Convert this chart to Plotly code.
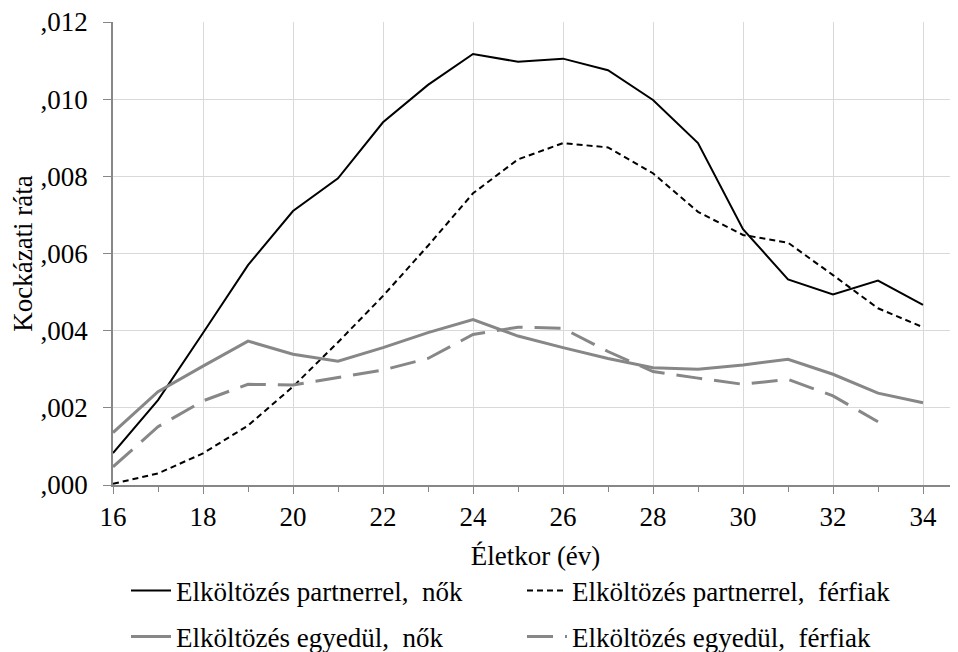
import plotly.graph_objects as go

ages = list(range(16, 35))
partner_nok = [0.00083, 0.0022, 0.00394, 0.0057, 0.0071, 0.00795, 0.0094, 0.01037, 0.01117, 0.01097,
               0.01105, 0.01075, 0.00998, 0.00886, 0.00663, 0.00533, 0.00494, 0.0053, 0.00467]
partner_ferfiak = [0.00003, 0.0003, 0.00082, 0.00154, 0.00255, 0.0037, 0.0049, 0.0062, 0.00756, 0.00844,
                   0.00886, 0.00875, 0.00808, 0.00708, 0.00648, 0.00628, 0.00544, 0.00458, 0.00409]
egyedul_nok = [0.00136, 0.00242, 0.00308, 0.00373, 0.00339, 0.00321, 0.00356, 0.00395, 0.00429, 0.00386,
               0.00356, 0.00328, 0.00304, 0.0030, 0.00311, 0.00326, 0.00287, 0.00238, 0.00213]
egyedul_ferfiak = [0.00047, 0.00151, 0.00218, 0.00261, 0.00259, 0.00279, 0.00298, 0.00328, 0.0039, 0.00409,
                   0.00406, 0.00346, 0.00294, 0.00277, 0.00261, 0.00274, 0.00231, 0.00164, None]

series_names = ["Elköltözés partnerrel,  nők", "Elköltözés partnerrel,  férfiak",
                "Elköltözés egyedül,  nők", "Elköltözés egyedül,  férfiak"]

x_tick_vals = [16, 18, 20, 22, 24, 26, 28, 30, 32, 34]
x_minor_vals = [17, 19, 21, 23, 25, 27, 29, 31, 33]
y_tick_vals = [0.0, 0.002, 0.004, 0.006, 0.008, 0.010, 0.012]
y_tick_text = [",000", ",002", ",004", ",006", ",008", ",010", ",012"]

x_title = "Életkor (év)"
y_title = "Kockázati ráta"

FONT = "Liberation Serif"
FS = 27
GRAY = "#878787"
GRID = "#d9d9d9"

fig = go.Figure()
fig.add_trace(go.Scatter(x=ages, y=partner_nok, mode="lines", name=series_names[0],
                         line=dict(color="black", width=2), legend="legend", showlegend=True))
fig.add_trace(go.Scatter(x=ages, y=partner_ferfiak, mode="lines", name=series_names[1],
                         line=dict(color="black", width=2, dash="6px,4px"), legend="legend2",
                         showlegend=True))
fig.add_trace(go.Scatter(x=ages, y=egyedul_nok, mode="lines", name=series_names[2],
                         line=dict(color=GRAY, width=3), legend="legend3", showlegend=True))
fig.add_trace(go.Scatter(x=ages, y=egyedul_ferfiak, mode="lines", name=series_names[3],
                         line=dict(color=GRAY, width=3, dash="26px,12px"), legend="legend4",
                         showlegend=True))

# the page body adds an 8 px offset; figure is sized so the screenshot matches
OFF = 8
W, H = 958 - OFF, 652 - OFF
plot_left, plot_w, plot_top, plot_h = 113 - OFF, 845, 22 - OFF, 463


def py(pix):
    return (plot_top + plot_h - (pix - OFF)) / plot_h


def px(pix):
    return ((pix - OFF) - plot_left) / plot_w


def leg(xpix, ypix):
    return dict(orientation="h", x=px(xpix), xanchor="left", y=py(ypix), yanchor="middle",
                font=dict(size=FS, family=FONT, color="black"), bgcolor="rgba(0,0,0,0)",
                itemwidth=40, visible=True)


fig.update_layout(
    width=W, height=H, showlegend=True,
    margin=dict(l=plot_left, r=W - plot_left - plot_w, t=plot_top, b=H - plot_top - plot_h,
                autoexpand=False),
    paper_bgcolor="white", plot_bgcolor="white",
    font=dict(family=FONT, size=FS, color="black"),
    legend=leg(126, 591),
    legend2=leg(522, 591),
    legend3=leg(126, 637),
    legend4=leg(522, 637),
    xaxis=dict(range=[16, 16 + plot_w / 45.0], tickvals=x_tick_vals,
               ticktext=[str(v) for v in x_tick_vals], automargin=False,
               showgrid=True, gridcolor=GRID, gridwidth=1.3, zeroline=False,
               showline=True, linecolor=GRAY, linewidth=1.5,
               ticks="outside", ticklen=7, tickcolor=GRAY, tickwidth=1.3,
               minor=dict(tickvals=x_minor_vals, ticks="outside", ticklen=5,
                          tickcolor=GRAY, tickwidth=1.3, showgrid=False),
               ticklabelstandoff=0, ticklabeloverflow="allow",
               title=dict(text=x_title, standoff=15, font=dict(size=FS)), tickfont=dict(size=FS)),
    yaxis=dict(range=[0, 0.012], tickvals=y_tick_vals, ticktext=y_tick_text, automargin=False,
               showgrid=True, gridcolor=GRID, gridwidth=1.3, zeroline=False,
               showline=True, linecolor=GRAY, linewidth=1.5,
               ticks="outside", ticklen=8, tickcolor=GRAY, tickwidth=1.3,
               ticklabelstandoff=10, ticklabeloverflow="allow",
               title=dict(text=y_title, standoff=4, font=dict(size=FS)), tickfont=dict(size=FS)),
)

fig.write_html("out.html")
